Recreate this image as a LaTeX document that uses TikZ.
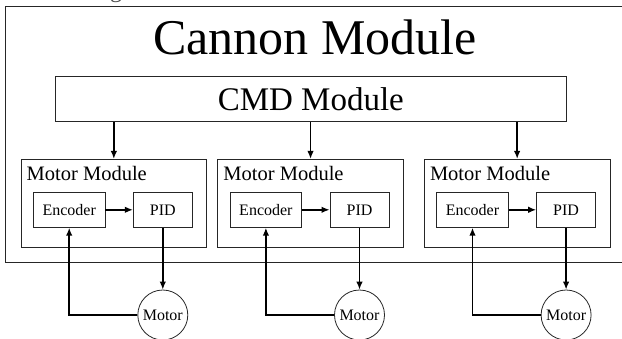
\documentclass[tikz,border=0pt]{standalone}
\usepackage{fontspec}
\setmainfont{Liberation Serif}
\usetikzlibrary{arrows.meta}

\newcommand{\fs}[1]{\fontsize{#1}{#1}\selectfont}

\tikzset{
  frame/.style={draw=black!85, line width=0.8pt},
  box/.style={frame, rectangle, inner sep=0pt},
  motorc/.style={frame, circle, inner sep=0pt, minimum size=50pt, font=\fs{16}},
  arr/.style={line width=1.5pt, -{Latex[length=8pt,width=6.5pt]}},
}

\begin{document}
\begin{tikzpicture}[x=1pt, y=-1pt]
  \useasboundingbox (0,0) rectangle (622,338);

  % caption above the frame, only its descender reaches the page
  \node[anchor=base, inner sep=0pt, text=black!70, font=\fs{24}] (cap) at (116,-2.2) {g};

  % outer frame of the cannon module
  \node[box, minimum width=625pt, minimum height=256pt] (outer) at (317.5,134) {};
  \node[anchor=base, inner sep=0pt, font=\fs{50}] (title) at (315,54) {Cannon Module};

  % command module
  \node[box, minimum width=511.7pt, minimum height=45.7pt, font=\fs{33}] (cmd) at (310.85,98.85) {CMD Module};

  % three motor modules, each with encoder, PID and motor
  \foreach \i/\L in {1/21, 2/217.7, 3/424.3} {
    \node[box, minimum width=185.7pt, minimum height=88.4pt] (mm\i) at (\L+92.85,203.5) {};
    \node[anchor=base west, inner sep=0pt, font=\fs{20.5}] (mml\i) at (\L+5.5,180) {Motor Module};
    \node[box, minimum width=71.7pt, minimum height=35pt, font=\fs{16}] (enc\i) at (\L+48.2,209.8) {Encoder};
    \node[box, minimum width=59pt, minimum height=35pt, font=\fs{16}] (pid\i) at (\L+141.8,209.8) {PID};
    \node[motorc] (mot\i) at (\L+141.8,315) {Motor};

    \draw[arr] (cmd.south -| mm\i.north) -- (mm\i.north);
    \draw[arr] (enc\i.east) -- (pid\i.west);
    \draw[arr] (pid\i.south) -- (mot\i.north);
    \draw[arr] (mot\i.west) -| (enc\i.south);
  }
\end{tikzpicture}
\end{document}
